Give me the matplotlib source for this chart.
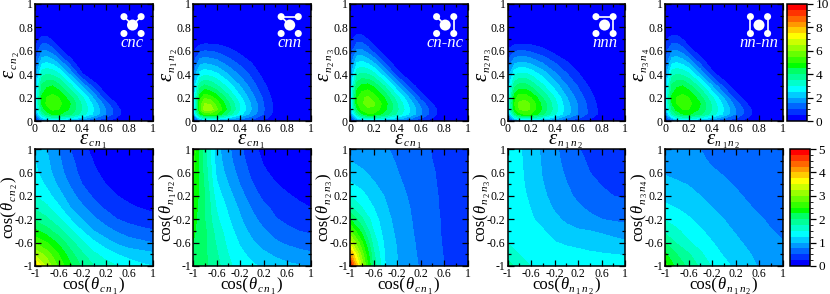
import matplotlib
matplotlib.use('Agg')
import matplotlib.pyplot as plt
from matplotlib.colors import ListedColormap, BoundaryNorm
from matplotlib.patches import Circle
from matplotlib.lines import Line2D

plt.rcParams['font.family'] = ['Liberation Serif', 'DejaVu Serif']

# eixos das grades
eps_axis = [0, .02, .06, .1, .15, .2, .3, .4, .5, .6, .7, .8, 1]
cos_axis = [-1, -.8, -.6, -.4, -.2, 0, .2, .4, .6, .8, 1]

# linha superior, densidade em (eps1, eps2)
eps_cnc = [
    [0, .3, .8, 1, 1.1, 1.1, .9, .7, .45, .25, .1, 0, 0],
    [.3, 1.2, 2.2, 2.7, 3, 3, 2.7, 2.1, 1.5, .9, .4, 0, 0],
    [.8, 2.2, 3.5, 4.2, 4.6, 4.6, 4.1, 3.3, 2.4, 1.5, .65, .05, 0],
    [1, 2.7, 4.2, 4.8, 5.1, 5, 4.4, 3.5, 2.5, 1.5, .65, .03, 0],
    [1.1, 3, 4.6, 5.1, 5.3, 5.2, 4.5, 3.4, 2.3, 1.2, .4, 0, 0],
    [1.1, 3, 4.6, 5, 5.2, 5, 4.2, 3.1, 1.9, .7, .1, 0, 0],
    [.9, 2.7, 4.1, 4.4, 4.5, 4.2, 3.2, 1.9, .75, .1, 0, 0, 0],
    [.7, 2.1, 3.3, 3.5, 3.4, 3.1, 1.9, .55, .05, 0, 0, 0, 0],
    [.45, 1.5, 2.4, 2.5, 2.3, 1.9, .75, .05, 0, 0, 0, 0, 0],
    [.25, .9, 1.5, 1.5, 1.2, .7, .1, 0, 0, 0, 0, 0, 0],
    [.1, .4, .65, .65, .4, .1, 0, 0, 0, 0, 0, 0, 0],
    [0, 0, .05, .03, 0, 0, 0, 0, 0, 0, 0, 0, 0],
    [0, 0, 0, 0, 0, 0, 0, 0, 0, 0, 0, 0, 0],
]
eps_cnn = [
    [0, .3, .8, 1.1, 1.2, 1.1, .85, .6, .4, .25, .1, 0, 0],
    [.3, 1.3, 2.6, 3.1, 3.2, 3, 2.3, 1.6, 1.1, .6, .2, 0, 0],
    [.9, 2.7, 4.4, 5.2, 5.3, 5, 3.8, 2.7, 1.8, 1, .3, 0, 0],
    [1.2, 3.2, 5.3, 6.3, 6.3, 5.6, 4.3, 3, 1.95, 1.05, .33, 0, 0],
    [1.3, 3.2, 5.2, 6, 5.9, 5.3, 4.1, 2.9, 1.9, 1, .32, 0, 0],
    [1.25, 3, 4.8, 5.4, 5.2, 4.8, 3.7, 2.6, 1.7, .9, .27, 0, 0],
    [1.05, 2.5, 3.8, 4.1, 3.9, 3.6, 2.8, 2, 1.25, .62, .12, 0, 0],
    [.85, 1.9, 2.7, 2.9, 2.8, 2.6, 2, 1.4, .85, .32, 0, 0, 0],
    [.55, 1.2, 1.8, 1.9, 1.8, 1.7, 1.25, .85, .48, .1, 0, 0, 0],
    [.2, .6, .9, 1, .95, .9, .65, .35, .08, 0, 0, 0, 0],
    [0, .05, .1, .15, .17, .17, .1, 0, 0, 0, 0, 0, 0],
    [0, 0, 0, 0, 0, 0, 0, 0, 0, 0, 0, 0, 0],
    [0, 0, 0, 0, 0, 0, 0, 0, 0, 0, 0, 0, 0],
]
eps_cnnc = [
    [0, .3, .8, 1.1, 1.2, 1.2, 1, .8, .55, .32, .15, 0, 0],
    [.3, 1.2, 2.2, 2.8, 3.2, 3.2, 2.8, 2.2, 1.6, 1, .5, .02, 0],
    [.8, 2.2, 3.6, 4.4, 4.9, 4.9, 4.3, 3.4, 2.5, 1.6, .75, .1, 0],
    [1.1, 2.8, 4.4, 5.1, 5.4, 5.4, 4.6, 3.6, 2.6, 1.6, .75, .05, 0],
    [1.2, 3.2, 4.9, 5.4, 5.7, 5.6, 4.7, 3.5, 2.4, 1.3, .5, 0, 0],
    [1.2, 3.2, 4.9, 5.4, 5.6, 5.3, 4.4, 3.2, 2, .85, .15, 0, 0],
    [1, 2.8, 4.3, 4.6, 4.7, 4.4, 3.4, 2.1, .9, .15, 0, 0, 0],
    [.8, 2.2, 3.4, 3.6, 3.5, 3.2, 2.1, .75, .1, 0, 0, 0, 0],
    [.55, 1.6, 2.5, 2.6, 2.4, 2, .9, .1, 0, 0, 0, 0, 0],
    [.32, 1, 1.6, 1.6, 1.3, .85, .15, 0, 0, 0, 0, 0, 0],
    [.15, .5, .75, .75, .5, .15, 0, 0, 0, 0, 0, 0, 0],
    [0, .02, .1, .05, 0, 0, 0, 0, 0, 0, 0, 0, 0],
    [0, 0, 0, 0, 0, 0, 0, 0, 0, 0, 0, 0, 0],
]
eps_nnn = [
    [0, .3, .8, 1.1, 1.2, 1.2, 1, .8, .55, .35, .18, .03, 0],
    [.3, 1.2, 2.4, 3, 3.2, 3.2, 2.7, 2.1, 1.5, 1, .55, .15, 0],
    [.8, 2.4, 4, 4.8, 5.1, 5, 4.1, 3.1, 2.2, 1.5, .85, .3, 0],
    [1.1, 3, 4.8, 5.5, 5.7, 5.4, 4.4, 3.3, 2.3, 1.5, .85, .3, 0],
    [1.2, 3.2, 5, 5.6, 5.7, 5.4, 4.3, 3.2, 2.2, 1.45, .8, .25, 0],
    [1.2, 3.1, 4.8, 5.3, 5.3, 5, 4, 3, 2.05, 1.3, .7, .18, 0],
    [1, 2.6, 3.8, 4.2, 4.2, 3.9, 3.1, 2.3, 1.55, .95, .42, .05, 0],
    [.8, 2, 2.9, 3.1, 3.1, 2.9, 2.3, 1.6, 1.05, .55, .15, 0, 0],
    [.55, 1.3, 1.9, 2, 2, 1.85, 1.45, 1, .55, .18, 0, 0, 0],
    [.3, .65, .95, 1, 1, .9, .65, .3, .08, 0, 0, 0, 0],
    [0, .05, .1, .12, .12, .1, .05, 0, 0, 0, 0, 0, 0],
    [0, 0, 0, 0, 0, 0, 0, 0, 0, 0, 0, 0, 0],
    [0, 0, 0, 0, 0, 0, 0, 0, 0, 0, 0, 0, 0],
]
eps_nnnn = [
    [0, .3, .8, 1, 1.15, 1.15, 1, .75, .55, .32, .15, 0, 0],
    [.3, 1.1, 2.1, 2.7, 3, 3.1, 2.7, 2.1, 1.5, 1, .5, .02, 0],
    [.8, 2.1, 3.4, 4.1, 4.5, 4.6, 4.1, 3.3, 2.4, 1.5, .72, .08, 0],
    [1, 2.7, 4.1, 4.7, 5, 5, 4.4, 3.5, 2.5, 1.5, .72, .05, 0],
    [1.15, 3, 4.5, 5, 5.3, 5.2, 4.5, 3.4, 2.3, 1.25, .48, 0, 0],
    [1.15, 3.1, 4.6, 5, 5.2, 5, 4.2, 3.1, 1.95, .8, .13, 0, 0],
    [1, 2.7, 4.1, 4.4, 4.5, 4.2, 3.3, 2, .85, .13, 0, 0, 0],
    [.75, 2.1, 3.3, 3.5, 3.4, 3.1, 2, .7, .1, 0, 0, 0, 0],
    [.55, 1.5, 2.4, 2.5, 2.3, 1.95, .85, .1, 0, 0, 0, 0, 0],
    [.32, 1, 1.5, 1.5, 1.25, .8, .13, 0, 0, 0, 0, 0, 0],
    [.15, .5, .72, .72, .48, .13, 0, 0, 0, 0, 0, 0, 0],
    [0, .02, .08, .05, 0, 0, 0, 0, 0, 0, 0, 0, 0],
    [0, 0, 0, 0, 0, 0, 0, 0, 0, 0, 0, 0, 0],
]

# linha inferior, densidade em (cos1, cos2)
cos_cnc = [
    [3.9, 3.2, 2.7, 2.3, 1.95, 1.75, 1.6, 1.5, 1.4, 1.3, 1.25],
    [3.2, 2.9, 2.5, 2.1, 1.8, 1.55, 1.4, 1.25, 1.15, 1.1, 1.05],
    [2.7, 2.5, 2.2, 1.85, 1.55, 1.3, 1.1, .95, .85, .8, .75],
    [2.3, 2.1, 1.85, 1.55, 1.25, 1, .85, .72, .62, .57, .52],
    [1.95, 1.8, 1.55, 1.25, 1, .8, .63, .5, .42, .36, .32],
    [1.7, 1.55, 1.3, 1, .8, .6, .46, .35, .28, .24, .2],
    [1.5, 1.35, 1.1, .85, .63, .46, .33, .25, .2, .16, .13],
    [1.4, 1.2, .95, .72, .5, .35, .25, .18, .14, .11, .09],
    [1.3, 1.1, .85, .62, .42, .28, .2, .14, .1, .08, .07],
    [1.25, 1.05, .8, .57, .36, .24, .16, .11, .08, .06, .05],
    [1.2, 1, .75, .5, .3, .2, .13, .09, .07, .05, .04],
]
cos_cnn = [
    [2.15, 2.05, 1.85, 1.55, 1.4, 1.3, 1.2, 1.12, 1.06, 1.02, 1],
    [2.2, 2.05, 1.78, 1.5, 1.32, 1.17, 1.05, .96, .88, .83, .79],
    [2.25, 2.05, 1.72, 1.43, 1.22, 1.04, .9, .79, .71, .65, .61],
    [2.3, 2.05, 1.65, 1.36, 1.12, .93, .78, .64, .56, .5, .46],
    [2.35, 2, 1.55, 1.28, 1.03, .82, .66, .52, .44, .37, .33],
    [2.4, 2, 1.48, 1.2, .95, .73, .56, .44, .35, .29, .25],
    [2.45, 2, 1.38, 1.1, .84, .62, .44, .33, .27, .22, .19],
    [2.5, 1.95, 1.28, 1, .74, .52, .35, .26, .2, .16, .14],
    [2.55, 1.9, 1.2, .9, .66, .44, .28, .2, .15, .12, .1],
    [2.6, 1.87, 1.14, .83, .6, .38, .23, .16, .12, .1, .08],
    [2.65, 1.85, 1.1, .8, .55, .33, .18, .12, .09, .07, .06],
]
cos_cnnc = [
    [4.9, 3.2, 1.9, 1.25, 1.02, .88, .72, .62, .5, .42, .37],
    [4.1, 2.9, 1.8, 1.22, 1, .85, .7, .6, .49, .42, .36],
    [3.4, 2.55, 1.65, 1.18, .98, .83, .68, .58, .48, .41, .36],
    [2.8, 2.15, 1.5, 1.12, .95, .8, .67, .57, .47, .4, .35],
    [2.25, 1.8, 1.37, 1.08, .92, .78, .66, .56, .47, .4, .35],
    [1.8, 1.5, 1.25, 1.03, .88, .76, .65, .55, .46, .4, .35],
    [1.5, 1.33, 1.13, .98, .85, .73, .63, .54, .46, .39, .34],
    [1.28, 1.17, 1.02, .92, .8, .7, .61, .53, .45, .38, .33],
    [1.12, 1.03, .95, .87, .76, .67, .59, .52, .44, .37, .32],
    [1, .94, .88, .82, .73, .65, .57, .5, .43, .36, .31],
    [.92, .88, .83, .77, .7, .62, .55, .49, .42, .36, .3],
]
cos_nnn = [
    [1.85, 1.65, 1.5, 1.45, 1.42, 1.4, 1.38, 1.36, 1.35, 1.34, 1.33],
    [1.65, 1.5, 1.44, 1.39, 1.36, 1.33, 1.31, 1.29, 1.27, 1.25, 1.24],
    [1.49, 1.45, 1.38, 1.32, 1.26, 1.22, 1.19, 1.14, 1.1, 1.06, 1.03],
    [1.46, 1.42, 1.33, 1.27, 1.16, 1.08, 1.03, 1, .97, .93, .9],
    [1.45, 1.39, 1.28, 1.17, 1.06, .95, .86, .8, .75, .71, .68],
    [1.44, 1.36, 1.24, 1.1, .97, .87, .78, .71, .65, .6, .57],
    [1.43, 1.33, 1.2, 1.05, .91, .8, .71, .62, .55, .5, .47],
    [1.42, 1.31, 1.17, 1.01, .87, .76, .65, .56, .49, .44, .41],
    [1.41, 1.3, 1.15, .98, .84, .72, .6, .5, .45, .41, .38],
    [1.4, 1.29, 1.14, .97, .82, .68, .55, .47, .42, .39, .37],
    [1.4, 1.28, 1.12, .95, .8, .65, .51, .45, .41, .38, .36],
]
cos_nnnn = [
    [2.6, 2.15, 1.95, 1.7, 1.48, 1.32, 1.2, 1.09, .98, .88, .83],
    [2.3, 2, 1.78, 1.55, 1.35, 1.23, 1.12, 1.03, .93, .85, .8],
    [2, 1.72, 1.53, 1.39, 1.26, 1.15, 1.05, .96, .88, .81, .76],
    [1.68, 1.54, 1.4, 1.28, 1.17, 1.07, .98, .9, .83, .76, .72],
    [1.48, 1.38, 1.28, 1.18, 1.09, 1, .92, .85, .78, .71, .66],
    [1.3, 1.24, 1.16, 1.08, 1, .93, .86, .78, .71, .65, .61],
    [1.18, 1.12, 1.06, 1, .92, .86, .79, .72, .66, .61, .58],
    [1.06, 1.03, .99, .93, .86, .79, .73, .67, .62, .58, .55],
    [.98, .94, .89, .84, .78, .73, .68, .63, .59, .56, .54],
    [.97, .92, .85, .79, .72, .66, .62, .59, .56, .54, .53],
    [.95, .9, .82, .75, .69, .64, .6, .57, .55, .53, .52],
]

eps_grids = [eps_cnc, eps_cnn, eps_cnnc, eps_nnn, eps_nnnn]
cos_grids = [cos_cnc, cos_cnn, cos_cnnc, cos_nnn, cos_nnnn]

panel_names = ['cnc', 'cnn', 'cn-nc', 'nnn', 'nn-nn']
x_subs = ['cn1', 'cn1', 'cn1', 'n1n2', 'n1n2']
y_subs = ['cn2', 'n1n2', 'n2n3', 'n2n3', 'n3n4']

eps_ticks = [0, .2, .4, .6, .8, 1]
eps_ticklabels = ['0', '0.2', '0.4', '0.6', '0.8', '1']
eps_minor = [.1, .3, .5, .7, .9]
cos_ticks = [-1, -.6, -.2, .2, .6, 1]
cos_ticklabels = ['-1', '-0.6', '-0.2', '0.2', '0.6', '1']
cos_minor = [-.8, -.4, 0, .4, .8]

eps_levels = [i * .5 for i in range(21)]
cos_levels = [i * .25 for i in range(21)]
eps_cbar_ticks = [0, 2, 4, 6, 8, 10]
cos_cbar_ticks = [0, 1, 2, 3, 4, 5]

# ligacoes do icone: C centro, TL/TR/BL/BR vizinhos
bonds = [
    [('C', 'TL'), ('C', 'TR')],
    [('C', 'TL'), ('TL', 'TR')],
    [('C', 'TL'), ('TR', 'BR')],
    [('TL', 'TR'), ('TR', 'BR')],
    [('TL', 'BL'), ('TR', 'BR')],
]
icon_center = [.83, .823, .81, .826, .80]

# cores das 20 faixas (azul, ciano, verde, amarelo, vermelho)
band_colors = ['#0000ff', '#0033ff', '#0066ff', '#0099ff', '#00ccff',
               '#00ffff', '#00ffcc', '#00ff99', '#00ff66', '#00ff00',
               '#33ff00', '#66ff00', '#99ff00', '#ccff00', '#ffff00',
               '#ffcc00', '#ff9900', '#ff6600', '#ff3300', '#ff0000']
cmap = ListedColormap(band_colors)

W, H = 830, 294
fig = plt.figure(figsize=(W / 100, H / 100), dpi=100)
renderer = fig.canvas.get_renderer()


def px_axes(x0, x1, y0, y1):
    return fig.add_axes([x0 / W, 1 - y1 / H, (x1 - x0) / W, (y1 - y0) / H])


def style_axes(ax, ticks, labels, minor):
    ax.set_xticks(ticks)
    ax.set_xticklabels(labels)
    ax.set_yticks(ticks)
    ax.set_yticklabels(labels)
    ax.set_xticks(minor, minor=True)
    ax.set_yticks(minor, minor=True)
    ax.tick_params(which='major', direction='in', length=4.5, width=.9, right=True, top=True,
                   labelsize=8.5, pad=1.5)
    ax.tick_params(which='minor', direction='in', length=2.5, width=.9, right=True, top=True)
    for s in ax.spines.values():
        s.set_linewidth(1.1)


def sub_parts(sub):
    # letra italica pequena e digito menor, como no original
    parts = []
    for ch in sub:
        if ch.isdigit():
            parts.append((ch, 6, 'normal', 4.5, 1.8))
        else:
            parts.append((ch, 8, 'italic', 3, 1.2))
    return parts


def draw_label(xc, yc, parts, rotation=0):
    # (xc, yc) em pixels: meio do rotulo, sobre a linha de base
    texts = []
    total = 0
    for s, fs, st, drop, gap in parts:
        t = fig.text(0, 0, s, fontsize=fs, style=st, ha='left', va='baseline',
                     rotation_mode='anchor')
        w = t.get_window_extent(renderer).width
        texts.append((t, w, drop, gap))
        total += w + gap
    pos = -total / 2
    for t, w, drop, gap in texts:
        if rotation == 90:
            x, y = xc + drop, yc - pos
        else:
            x, y = xc + pos, yc + drop
        t.set_position((x / W, 1 - y / H))
        t.set_rotation(rotation)
        pos += w + gap


def eps_label(sub):
    return [('ε', 15, 'italic', 0, .5)] + sub_parts(sub)


def cos_label(sub):
    return [('cos(', 12, 'normal', 0, 0), ('θ', 12, 'italic', 0, .8)] + sub_parts(sub) + \
           [(')', 12, 'normal', 0, 0)]


def draw_icon(ax, cx, bond_list):
    dx, dy = .073, .072
    cy = .82
    pos = {'C': (cx, cy), 'TL': (cx - dx, cy + dy), 'TR': (cx + dx, cy + dy),
           'BL': (cx - dx, cy - dy), 'BR': (cx + dx, cy - dy)}
    for a, b in bond_list:
        ax.add_line(Line2D([pos[a][0], pos[b][0]], [pos[a][1], pos[b][1]], color='white', lw=1.2,
                           transform=ax.transAxes, zorder=5))
    for k, p in pos.items():
        r = .047 if k == 'C' else .03
        ax.add_patch(Circle(p, r, color='white', transform=ax.transAxes, zorder=6, lw=0))


lefts = [35, 193, 350, 507.5, 665]
for i in range(5):
    x0 = lefts[i]
    xc = x0 + 58.5
    ax = px_axes(x0, x0 + 117.5, 4, 121)
    cs_top = ax.contourf(eps_axis, eps_axis, eps_grids[i], levels=eps_levels, cmap=cmap,
                         norm=BoundaryNorm(eps_levels, cmap.N))
    ax.set_xlim(0, 1)
    ax.set_ylim(0, 1)
    style_axes(ax, eps_ticks, eps_ticklabels, eps_minor)
    draw_label(xc, 143.5, eps_label(x_subs[i]))
    draw_label(x0 - 21, 64, eps_label(y_subs[i]), rotation=90)
    draw_icon(ax, icon_center[i], bonds[i])
    ax.text(icon_center[i], .67, panel_names[i], transform=ax.transAxes, color='white',
            style='italic', fontsize=12, ha='center', va='center', zorder=6)

    ax = px_axes(x0, x0 + 117.5, 149, 266)
    cs_bot = ax.contourf(cos_axis, cos_axis, cos_grids[i], levels=cos_levels, cmap=cmap,
                         norm=BoundaryNorm(cos_levels, cmap.N))
    ax.set_xlim(-1, 1)
    ax.set_ylim(-1, 1)
    style_axes(ax, cos_ticks, cos_ticklabels, cos_minor)
    draw_label(xc, 289, cos_label(x_subs[i]))
    draw_label(x0 - 22.5, 207, cos_label(y_subs[i]), rotation=90)

# barras de cor
cax = px_axes(787, 807, 4, 121)
cb = fig.colorbar(cs_top, cax=cax, ticks=eps_cbar_ticks)
cb.ax.set_yticklabels([str(t) for t in eps_cbar_ticks])
cb.ax.tick_params(direction='out', length=4, width=.9, labelsize=9.5, pad=2)
cb.outline.set_linewidth(1.1)

cax = px_axes(790, 810, 149, 266)
cb = fig.colorbar(cs_bot, cax=cax, ticks=cos_cbar_ticks)
cb.ax.set_yticklabels([str(t) for t in cos_cbar_ticks])
cb.ax.tick_params(direction='out', length=4, width=.9, labelsize=9.5, pad=2)
cb.outline.set_linewidth(1.1)

fig.savefig('out.png', dpi=100)
